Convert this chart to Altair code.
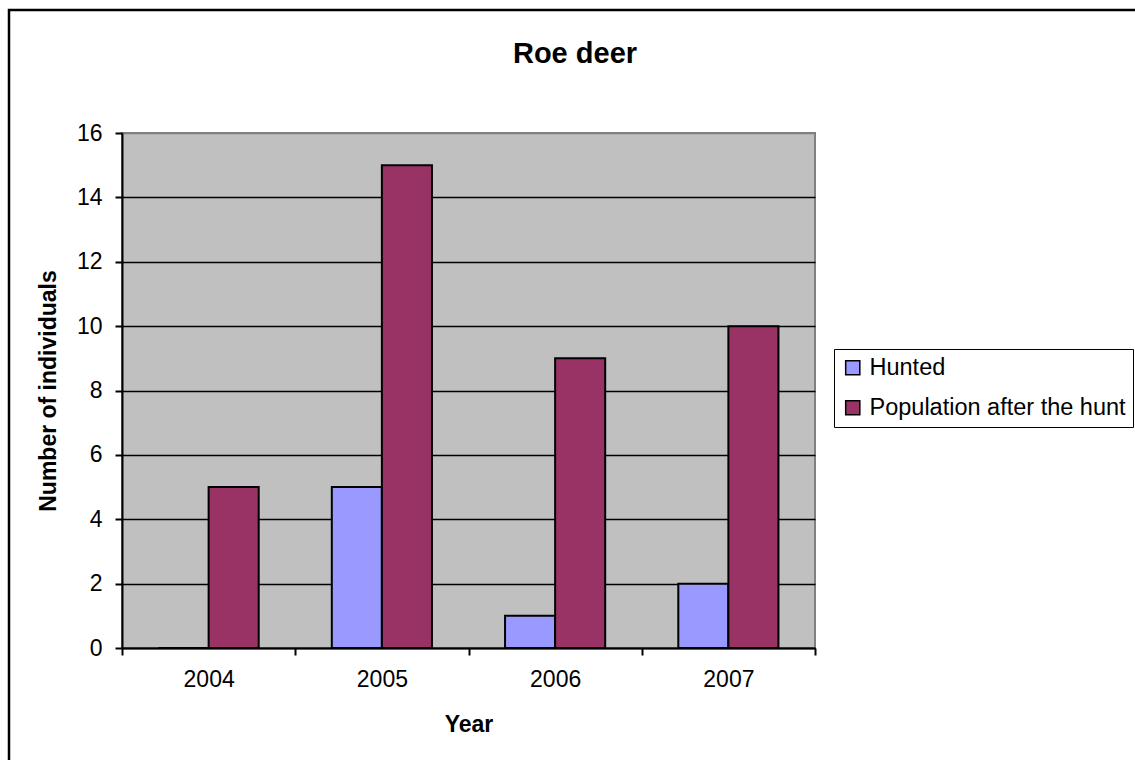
import altair as alt
import pandas as pd

# Roe deer counts per year
years = ["2004", "2005", "2006", "2007"]
hunted = [0, 5, 1, 2]
population = [5, 15, 9, 10]
series_names = ["Hunted", "Population after the hunt"]
series_colors = ["#9999FF", "#993366"]
y_ticks = [0, 2, 4, 6, 8, 10, 12, 14, 16]
chart_title = ["Roe deer"]

rows = []
for i, yr in enumerate(years):
    rows.append({"Year": yr, "Series": series_names[0], "Count": hunted[i]})
    rows.append({"Year": yr, "Series": series_names[1], "Count": population[i]})
df = pd.DataFrame(rows)

# layout (plot area size and its offset inside the page)
W, H = 693, 515
LEFT, TOP = 122, 133
PAGE_W, PAGE_H = 1135, 760
FONT = "Liberation Sans"

# outer chart border
frame = alt.Chart(pd.DataFrame({"k": [0]})).mark_rect(
    filled=False, stroke="black", strokeWidth=2.5, clip=False
).encode(
    x=alt.value(9 - LEFT),
    x2=alt.value(PAGE_W + 20 - LEFT),
    y=alt.value(10 - TOP),
    y2=alt.value(PAGE_H + 20 - TOP),
)

# chart heading, centred over the whole chart
heading = alt.Chart(pd.DataFrame({"t": chart_title})).mark_text(
    font=FONT, fontSize=29, fontWeight="bold", color="black",
    align="center", baseline="alphabetic", clip=False
).encode(
    x=alt.value(575 - LEFT),
    y=alt.value(63 - TOP),
    text="t:N",
)

bars = alt.Chart(df).mark_bar(stroke="black", strokeWidth=2).encode(
    x=alt.X(
        "Year:N",
        sort=years,
        scale=alt.Scale(paddingInner=0, paddingOuter=0),
        axis=alt.Axis(
            title="Year",
            labelAngle=0,
            tickBand="extent",
            tickSize=7,
            tickWidth=2,
            tickColor="black",
            domainColor="black",
            domainWidth=2,
            grid=False,
            labelFont=FONT,
            labelFontSize=23,
            labelColor="black",
            labelPadding=13,
            titleFont=FONT,
            titleFontSize=23,
            titleFontWeight="bold",
            titleColor="black",
            titlePadding=22,
        ),
    ),
    xOffset=alt.XOffset(
        "Series:N",
        sort=series_names,
        scale=alt.Scale(paddingInner=0, paddingOuter=0.73),
    ),
    y=alt.Y(
        "Count:Q",
        scale=alt.Scale(domain=[0, 16], nice=False),
        axis=alt.Axis(
            title="Number of individuals",
            values=y_ticks,
            grid=True,
            gridColor=alt.condition("datum.value == 16", alt.value("#808080"), alt.value("black")),
            gridWidth=1.6,
            tickSize=7,
            tickWidth=2,
            tickColor="black",
            domainColor="black",
            domainWidth=2,
            labelFont=FONT,
            labelFontSize=23,
            labelColor="black",
            labelPadding=13,
            titleFont=FONT,
            titleFontSize=23,
            titleFontWeight="bold",
            titleColor="black",
            titlePadding=16,
        ),
    ),
    color=alt.Color(
        "Series:N",
        sort=series_names,
        scale=alt.Scale(domain=series_names, range=series_colors),
        legend=alt.Legend(
            title=None,
            orient="none",
            legendX=712,
            legendY=216,
            strokeColor="black",
            padding=7,
            symbolType="square",
            symbolSize=200,
            symbolStrokeColor="black",
            symbolStrokeWidth=1.5,
            symbolOpacity=1,
            labelFont=FONT,
            labelFontSize=23.5,
            labelColor="black",
            labelOffset=5,
            labelLimit=400,
            rowPadding=15,
        ),
    ),
)

chart = alt.layer(frame, bars, heading).properties(
    width=W,
    height=H,
    background="white",
    autosize=alt.AutoSizeParams(type="none"),
    padding={"left": LEFT, "top": TOP, "right": PAGE_W - LEFT - W, "bottom": PAGE_H - TOP - H},
).configure_view(
    fill="#C0C0C0", stroke="#808080", strokeWidth=2
)

chart.save("out.html", embed_options={"renderer": "svg", "actions": False})
